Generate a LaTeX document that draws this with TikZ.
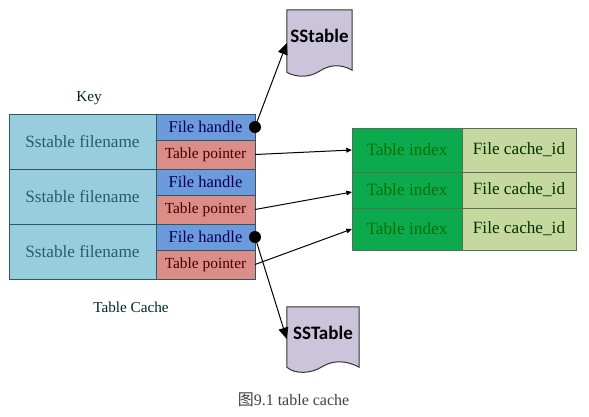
\documentclass[tikz,border=0pt]{standalone}
\usepackage{fontspec}
\setmainfont{Liberation Serif}
\setsansfont{Carlito}
\newfontfamily\cjkfont{Noto Sans CJK SC}
\usepackage{xcolor}
\usetikzlibrary{arrows.meta, positioning, calc, backgrounds}
\definecolor{namefill}{HTML}{97CDDC}
\definecolor{handfill}{HTML}{6C9ADB}
\definecolor{ptrfill}{HTML}{DC8D88}
\definecolor{indexfill}{HTML}{0CA94E}
\definecolor{cachefill}{HTML}{C7D7A0}
\definecolor{sheetfill}{HTML}{CCC4DB}
\definecolor{leftline}{HTML}{2C5866}
\definecolor{rightline}{HTML}{4F7052}

\begin{document}
\begin{tikzpicture}[
    x=1pt, y=-1pt,
    node distance=0pt and 0pt,
    cell/.style={draw=leftline, line width=0.9pt, inner sep=0pt, outer sep=0pt, align=center},
    namecell/.style={cell, fill=namefill, minimum width=147pt, minimum height=55pt,
                     font=\fontsize{17.2}{20}\selectfont, text=leftline!80!teal},
    handcell/.style={cell, fill=handfill, minimum width=99pt, minimum height=26pt,
                     font=\fontsize{16.5}{18}\selectfont, text=blue!35!black},
    ptrcell/.style={cell, fill=ptrfill, minimum width=99pt, minimum height=29pt,
                    font=\fontsize{15.4}{18}\selectfont, text=red!25!black},
    indexcell/.style={cell, draw=rightline, fill=indexfill, minimum width=110pt,
                      font=\fontsize{17.3}{20}\selectfont, text=green!45!black},
    cachecell/.style={cell, draw=rightline, fill=cachefill, minimum width=114pt,
                      font=\fontsize{17.2}{20}\selectfont, text=green!20!black},
    sheet/.style={inner sep=0pt, minimum height=52pt, font=\sffamily\bfseries\fontsize{19}{22}\selectfont},
    sheetline/.style={draw=black!80, line width=1pt, fill=sheetfill},
    hub/.style={circle, fill=black, inner sep=0pt, minimum size=12pt},
    caplabel/.style={text=black!70!teal, font=\fontsize{15.2}{18}\selectfont},
    panah/.style={-{Triangle[length=4mm, width=3.5mm]}, line width=1pt},
    panahkecil/.style={-{Triangle[length=2mm, width=1.6mm]}, line width=1pt}
  ]
    \useasboundingbox (0,0) rectangle (589,416);
    % left table
    \node[namecell] (name1) at (82.5,141.5) {Sstable filename};
    \node[namecell, below=of name1] (name2) {Sstable filename};
    \node[namecell, below=of name2] (name3) {Sstable filename};
    \node[handcell, right=of name1.north east, anchor=north west] (hand1) {File handle};
    \node[ptrcell, below=of hand1] (ptr1) {Table pointer};
    \node[handcell, below=of ptr1] (hand2) {File handle};
    \node[ptrcell, below=of hand2] (ptr2) {Table pointer};
    \node[handcell, below=of ptr2] (hand3) {File handle};
    \node[ptrcell, below=of hand3] (ptr3) {Table pointer};
    \node[caplabel] (keylabel) at (89,98) {Key};
    \node[caplabel] (cachelabel) at (131,307) {Table Cache};
    % right table
    \node[indexcell, minimum height=44pt] (index1) at (407,150) {Table index};
    \node[indexcell, minimum height=36pt, below=of index1] (index2) {Table index};
    \node[indexcell, minimum height=42pt, below=of index2] (index3) {Table index};
    \node[cachecell, minimum height=44pt, right=of index1] (cache1) {File cache\_id};
    \node[cachecell, minimum height=36pt, right=of index2] (cache2) {File cache\_id};
    \node[cachecell, minimum height=42pt, right=of index3] (cache3) {File cache\_id};
    % sstable sheets
    \node[sheet, minimum width=65pt] (sheeta) at (319.5,36) {SStable};
    \node[sheet, minimum width=72pt] (sheetb) at (323,333) {SSTable};
    \begin{scope}[on background layer]
      \draw[sheetline] (sheeta.north west) -- (sheeta.north east) -- ($(sheeta.south east)+(0,8)$)
        .. controls ($(sheeta.south east)+(-12,1)$) and ($(sheeta.south east)+(-24,3)$) .. ($(sheeta.south)+(0,9)$)
        .. controls ($(sheeta.south west)+(22,16)$) and ($(sheeta.south west)+(8,15)$) .. ($(sheeta.south west)+(0,10)$) -- cycle;
      \draw[sheetline] (sheetb.north west) -- (sheetb.north east) -- ($(sheetb.south east)+(0,8)$)
        .. controls ($(sheetb.south east)+(-13,1)$) and ($(sheetb.south east)+(-26,1)$) .. ($(sheetb.south)+(0,7)$)
        .. controls ($(sheetb.south west)+(24,15)$) and ($(sheetb.south west)+(8,15)$) .. ($(sheetb.south west)+(0,8)$) -- cycle;
    \end{scope}
    % connectors
    \node[hub] (hub1) at (hand1.east) {};
    \node[hub] (hub3) at (hand3.east) {};
    \draw[panah] (hub1.center) -- ([yshift=-7pt]sheeta.west);
    \draw[panah] (hub3.center) -- ([yshift=-6pt]sheetb.west);
    \draw[panahkecil] (ptr1.east) -- (index1.west);
    \draw[panahkecil] (ptr2.east) -- ([yshift=-2pt]index2.west);
    \draw[panahkecil] (ptr3.east) -- (index3.west);
    % caption
    \node[font=\fontsize{16}{18}\selectfont, text=black!75] (caption) at (293.5,400) {{\cjkfont 图}9.1 table cache};
  \end{tikzpicture}
\end{document}
